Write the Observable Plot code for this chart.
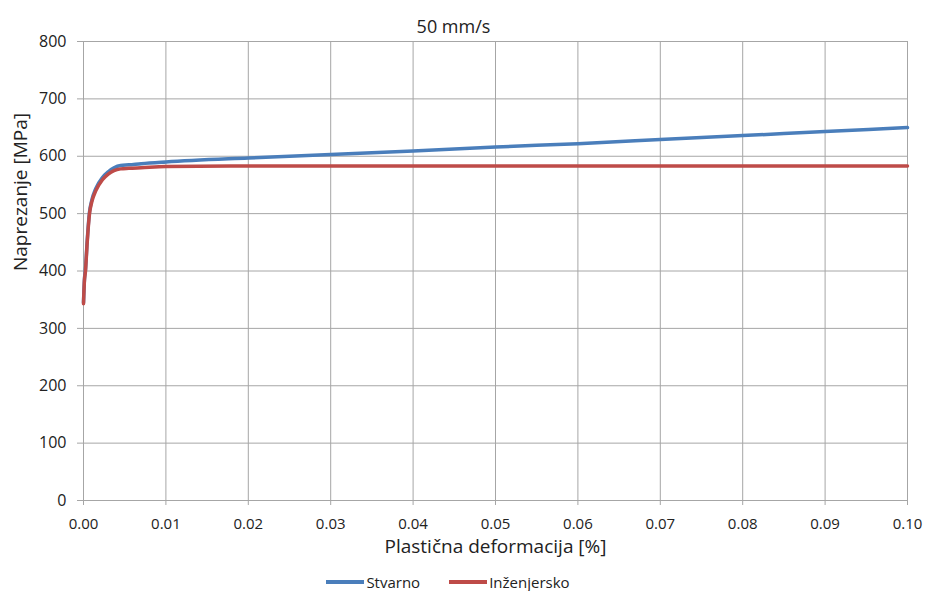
<!DOCTYPE html>
<html>
<head>
<meta charset="utf-8">
<script src="https://cdn.jsdelivr.net/npm/d3@7"></script>
<script src="https://cdn.jsdelivr.net/npm/@observablehq/plot@0.6"></script>
<style>
  body { margin: 0; background: #fff; font-family: "Open Sans", sans-serif; }
  #wrap { width: 926px; height: 591px; position: relative; }
  #legend { position: absolute; top: 572px; left: 0; width: 896px; display: flex; justify-content: center; gap: 29px; font-size: 15px; line-height: 20px; color: #222; }
  .item { display: flex; align-items: center; }
  .sw { width: 38px; height: 4px; margin-right: 2px; }
</style>
</head>
<body>
<div id="wrap">
  <div id="chart"></div>
  <div id="legend"></div>
</div>
<script>
const title = "50 mm/s";
const xLabel = "Plastična deformacija [%]";
const yLabel = "Naprezanje [MPa]";
const seriesNames = ["Stvarno", "Inženjersko"];
const seriesColors = ["#4a7ebb", "#be4b48"];
const xTicks = [0, 0.01, 0.02, 0.03, 0.04, 0.05, 0.06, 0.07, 0.08, 0.09, 0.10];
const yTicks = [0, 100, 200, 300, 400, 500, 600, 700, 800];

const stvarnoX = [0, 0.0001, 0.00024, 0.00045, 0.00073, 0.001, 0.0015, 0.0023, 0.003, 0.0037, 0.0045, 0.0055, 0.007, 0.01, 0.02, 0.03, 0.04, 0.05, 0.06, 0.07, 0.08, 0.09, 0.10];
const stvarnoY = [345, 382, 403, 453, 503, 523, 544, 563, 573, 580, 584, 585, 587, 590, 597, 603, 609, 616, 622, 629, 636, 643, 650];
const inzX = [0, 0.0001, 0.00024, 0.00045, 0.00073, 0.001, 0.0015, 0.0023, 0.003, 0.0037, 0.0045, 0.0055, 0.007, 0.01, 0.02, 0.03, 0.04, 0.05, 0.06, 0.07, 0.08, 0.09, 0.10];
const inzY = [343, 380, 400, 450, 500, 520, 540, 559, 569, 575, 578, 579, 580, 582, 583, 583, 583, 583, 583, 583, 583, 583, 583];

const stvarno = stvarnoX.map((x, i) => ({x, y: stvarnoY[i]}));
const inz = inzX.map((x, i) => ({x, y: inzY[i]}));

const font = "Open Sans, sans-serif";
const chart = Plot.plot({
  width: 926,
  height: 570,
  marginTop: 41,
  marginBottom: 70,
  marginLeft: 83,
  marginRight: 19,
  style: {fontFamily: font, fontSize: "15px", color: "#222", background: "#fff"},
  x: {domain: [0, 0.1], ticks: xTicks, tickFormat: d3.format(".2f")},
  y: {domain: [0, 800], ticks: yTicks},
  marks: [
    Plot.gridX(xTicks, {stroke: "#a6a6a6", strokeOpacity: 1, strokeWidth: 1}),
    Plot.gridY(yTicks, {stroke: "#a6a6a6", strokeOpacity: 1, strokeWidth: 1}),
    Plot.axisX(xTicks, {tickSize: 5, tickPadding: 13, stroke: "#a6a6a6", fontSize: 15, label: null, tickFormat: d3.format(".2f")}),
    Plot.axisY(yTicks, {tickSize: 6, tickPadding: 11, stroke: "#a6a6a6", fontSize: 16, label: null}),
    Plot.text([xLabel], {frameAnchor: "bottom", dy: 52, fontSize: 19, fill: "#222"}),
    Plot.text([yLabel], {frameAnchor: "left", dx: -63, rotate: -90, fontSize: 19, fill: "#222"}),
    Plot.text([title], {frameAnchor: "top", dy: -21, dx: -42, fontSize: 18, fill: "#222"}),
    Plot.line(stvarno, {x: "x", y: "y", stroke: seriesColors[0], strokeWidth: 3.5, curve: "monotone-x"}),
    Plot.line(inz, {x: "x", y: "y", stroke: seriesColors[1], strokeWidth: 3.5, curve: "monotone-x"})
  ]
});
document.getElementById("chart").appendChild(chart);

const legend = document.getElementById("legend");
seriesNames.forEach((n, i) => {
  const it = document.createElement("div");
  it.className = "item";
  const sw = document.createElement("span");
  sw.className = "sw";
  sw.style.background = seriesColors[i];
  const t = document.createElement("span");
  t.textContent = n;
  it.appendChild(sw); it.appendChild(t);
  legend.appendChild(it);
});
</script>
</body>
</html>
